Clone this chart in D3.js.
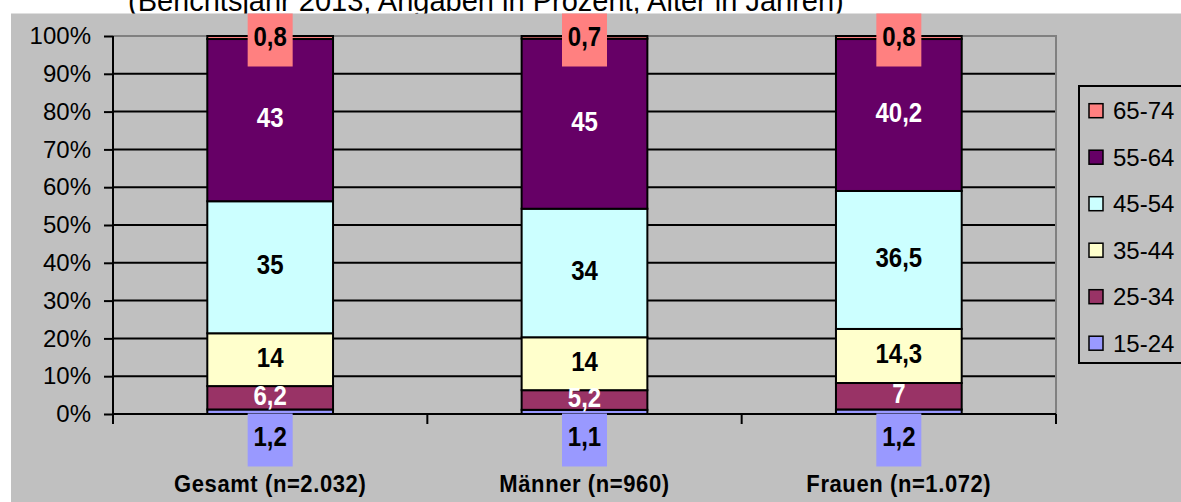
<!DOCTYPE html>
<html>
<head>
<meta charset="utf-8">
<script src="https://cdn.jsdelivr.net/npm/d3@7"></script>
<style>
  body { margin: 0; background: #fff; }
  svg { display: block; font-family: Arial, "Liberation Sans", sans-serif; }
</style>
</head>
<body>
<script>
const width = 1181;
const height = 502;

// data
const categories = ['Gesamt (n=2.032)', 'Männer (n=960)', 'Frauen (n=1.072)'];
const ageGroups = ['15-24', '25-34', '35-44', '45-54', '55-64', '65-74'];
const gesamt = [1.2, 6.2, 14, 35, 43, 0.8];
const maenner = [1.1, 5.2, 14, 34, 45, 0.7];
const frauen = [1.2, 7, 14.3, 36.5, 40.2, 0.8];
const yTicks = [0, 0.1, 0.2, 0.3, 0.4, 0.5, 0.6, 0.7, 0.8, 0.9, 1];
const title = '(Berichtsjahr 2013, Angaben in Prozent, Alter in Jahren)';

const colors = ['#9999ff', '#993366', '#ffffcc', '#ccffff', '#660066', '#ff8080'];
const textColors = ['#000', '#fff', '#000', '#000', '#fff', '#000'];

const series = [gesamt, maenner, frauen];
const rows = categories.map((c, i) => {
  const row = { cat: c };
  ageGroups.forEach((g, j) => row[g] = series[i][j]);
  return row;
});

const margin = { left: 113, right: 1056, top: 36, bottom: 414 };

const svg = d3.select('body').append('svg')
  .attr('width', width)
  .attr('height', height);

// title (partly hidden behind the grey chart area, as in the original)
svg.append('text')
  .attr('x', 128)
  .attr('y', 11)
  .attr('font-size', 29)
  .text(title);

svg.append('rect')
  .attr('x', 11).attr('y', 13.5)
  .attr('width', width - 11).attr('height', height - 13.5)
  .attr('fill', '#c0c0c0');

const x = d3.scaleBand()
  .domain(categories)
  .range([margin.left, margin.right])
  .paddingInner(0.6)
  .paddingOuter(0.3);

const y = d3.scaleLinear()
  .domain([0, 1])
  .range([margin.bottom, margin.top]);

const stacked = d3.stack()
  .keys(ageGroups)
  .offset(d3.stackOffsetExpand)(rows);

// gridlines
svg.append('g')
  .selectAll('line')
  .data(yTicks.filter(t => t > 0 && t < 1))
  .enter().append('line')
    .attr('x1', margin.left).attr('x2', margin.right)
    .attr('y1', d => y(d)).attr('y2', d => y(d))
    .attr('stroke', '#000')
    .attr('stroke-width', 2);

// plot border (grey top + right)
svg.append('path')
  .attr('d', `M${margin.left},${y(1)}H${margin.right}V${y(0)}`)
  .attr('fill', 'none')
  .attr('stroke', '#808080')
  .attr('stroke-width', 2);

// bars
svg.append('g')
  .selectAll('g')
  .data(stacked)
  .enter().append('g')
    .attr('fill', (d, i) => colors[i])
  .selectAll('rect')
  .data(d => d)
  .enter().append('rect')
    .attr('x', d => x(d.data.cat))
    .attr('width', x.bandwidth())
    .attr('y', d => y(d[1]))
    .attr('height', d => y(d[0]) - y(d[1]))
    .attr('stroke', '#000')
    .attr('stroke-width', 2);

// y axis
const yAxis = svg.append('g')
  .attr('transform', `translate(${margin.left},0)`)
  .call(d3.axisLeft(y).tickValues(yTicks).tickFormat(d3.format('.0%')).tickSize(9).tickPadding(13));
yAxis.select('.domain').remove();
yAxis.selectAll('line').attr('stroke', '#000').attr('stroke-width', 2);
yAxis.selectAll('text')
  .attr('font-size', 24)
  .attr('font-family', 'Arial, "Liberation Sans", sans-serif')
  .attr('fill', '#000');
svg.append('line')
  .attr('x1', margin.left).attr('x2', margin.left)
  .attr('y1', y(1)).attr('y2', y(0) + 10)
  .attr('stroke', '#000').attr('stroke-width', 2);

// x axis
svg.append('line')
  .attr('x1', margin.left).attr('x2', margin.right)
  .attr('y1', y(0)).attr('y2', y(0))
  .attr('stroke', '#000').attr('stroke-width', 2);
const step = x.step();
const bounds = [0, 1, 2, 3].map(i => margin.left + i * step);
svg.append('g')
  .selectAll('line')
  .data(bounds)
  .enter().append('line')
    .attr('x1', d => d).attr('x2', d => d)
    .attr('y1', y(0)).attr('y2', y(0) + 10)
    .attr('stroke', '#000').attr('stroke-width', 2);

svg.append('g')
  .selectAll('text')
  .data(categories)
  .enter().append('text')
    .attr('transform', d => `translate(${x(d) + x.bandwidth() / 2},492) scale(1,1.1)`)
    .attr('text-anchor', 'middle')
    .attr('font-size', 22)
    .attr('font-weight', 'bold')
    .attr('letter-spacing', 0.6)
    .text(d => d);

// value labels
const fmt = v => String(v).replace('.', ',');
const labels = [];
stacked.forEach((s, i) => {
  s.forEach((d, k) => {
    let cy = (y(d[0]) + y(d[1])) / 2 - 3;
    let boxed = false;
    if (i === 0) { cy = y(0) + 26; boxed = true; }
    if (i === ageGroups.length - 1) { cy = y(1) + 4; boxed = true; }
    labels.push({ cx: x(d.data.cat) + x.bandwidth() / 2, cy, boxed, i, v: series[k][i] });
  });
});

const lab = svg.append('g')
  .selectAll('g')
  .data(labels)
  .enter().append('g')
    .attr('transform', d => `translate(${d.cx},${d.cy})`);

lab.filter(d => d.boxed).append('rect')
  .attr('x', -22.5).attr('y', -26.5)
  .attr('width', 45).attr('height', 53)
  .attr('fill', d => colors[d.i]);

lab.append('text')
  .attr('transform', d => `translate(0,${d.boxed ? -3.5 : 0}) scale(1,1.14)`)
  .attr('text-anchor', 'middle')
  .attr('dy', '0.36em')
  .attr('font-size', 24)
  .attr('font-weight', 'bold')
  .attr('fill', d => textColors[d.i])
  .text(d => fmt(d.v));

// legend
const legend = svg.append('g');
legend.append('rect')
  .attr('x', 1079).attr('y', 86)
  .attr('width', 140).attr('height', 277)
  .attr('fill', 'none')
  .attr('stroke', '#000')
  .attr('stroke-width', 2);

const legendOrder = ageGroups.slice().reverse();
const li = legend.selectAll('g')
  .data(legendOrder)
  .enter().append('g')
    .attr('transform', (d, i) => `translate(1089,${110.7 + i * 46.5})`);
li.append('rect')
  .attr('x', 0).attr('y', -7)
  .attr('width', 14).attr('height', 14)
  .attr('fill', d => colors[ageGroups.indexOf(d)])
  .attr('stroke', '#000')
  .attr('stroke-width', 1.5);
li.append('text')
  .attr('x', 24)
  .attr('dy', '0.36em')
  .attr('font-size', 24)
  .text(d => d);
</script>
</body>
</html>
